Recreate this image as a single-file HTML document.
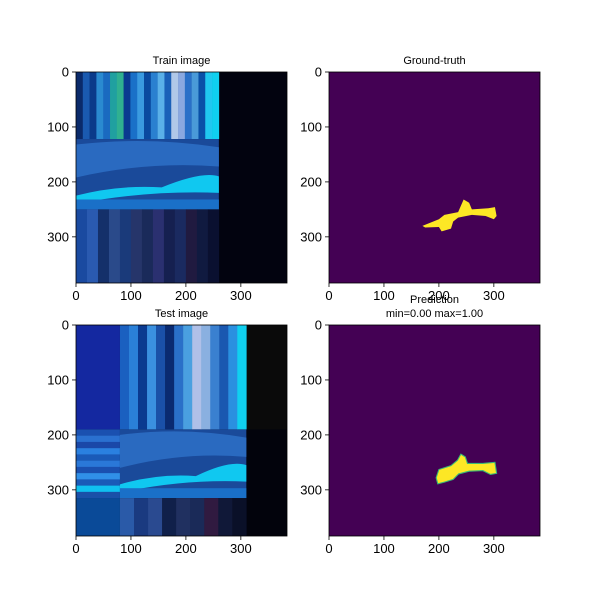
<!DOCTYPE html>
<html><head><meta charset="utf-8"><style>
body{margin:0;background:#fff}
svg text{font-family:"Liberation Sans",sans-serif;fill:#000}
</style></head><body>
<svg id="fig" width="600" height="600" xmlns="http://www.w3.org/2000/svg"></svg>
<script>
const ticks=[0,100,200,300];
const imgSize=384;
const trainTop=["#0a2a6a","#1a5ab0","#0a3a8a","#2a8ad0","#1a6ac0","#20a0a0","#30b090","#0a3a90","#1a70c8","#3a9ae0","#0a4aa0","#2a80d0","#5ab0e8","#1a60b8","#b0c8e8","#8aa8e0","#2a70c8","#4a9ad8","#0a50a8","#20c8f0","#10d0f0"];
const trainBot=["#1a4aa0","#2a5ab0","#14306a","#2a4a8a","#1a3a7a","#26356a","#1a2a5a","#2a3070","#152050","#1a2a60","#201a40","#101a40","#0a1030"];
const testTop=["#1a60c0","#2a80d8","#0a3a90","#3a90e0","#1a50a8","#0a2a70","#2a70c8","#4aa0e0","#b0c0e8","#8ab0e0","#3a80d0","#1a58b0","#2a90e0","#10d0f0"];
const testBot=["#2a5aa8","#1a3a80","#2a4a90","#10204a","#203060","#1a2a58","#301a40","#101838","#0a1028"];
const testLeftRows=["#1a50b0","#2a70d0","#1a48a8","#2a80e0","#1a5ab8","#2a78d8","#1a50b0","#3090e8","#1a5ab8","#10c0f0","#1a50a8"];
const gtShape=[[170,280],[200,268],[210,260],[235,255],[245,232],[255,238],[260,250],[290,248],[302,246],[305,262],[300,268],[285,262],[260,260],[235,265],[226,272],[222,285],[205,290],[200,282],[175,283]];
const predShape=[[195,278],[200,263],[222,256],[234,246],[240,235],[248,240],[252,252],[280,252],[302,250],[305,270],[294,272],[280,265],[255,266],[236,271],[226,281],[210,286],[198,289]];
const NS="http://www.w3.org/2000/svg";
const fig=document.getElementById('fig');
function el(tag,attrs,parent){const e=document.createElementNS(NS,tag);for(const k in attrs)e.setAttribute(k,attrs[k]);(parent||fig).appendChild(e);return e;}
function axes(x0,y0,name,title,titleLines){
  const W=211,s=W/imgSize;
  const g=el('g',{transform:`translate(${x0},${y0}) scale(${s})`});
  
  
  const fr=el('rect',{x:x0,y:y0,width:W,height:W,fill:'none',stroke:'#000','stroke-width':0.8});
  
  
  ticks.forEach(t=>{
    const px=x0+t*s, py=y0+t*s;
    el('line',{x1:px,y1:y0+W,x2:px,y2:y0+W+4,stroke:'#000','stroke-width':0.8});
    const tx=el('text',{x:px,y:y0+W+17,'font-size':13,'text-anchor':'middle'});tx.textContent=t;
    
    
    el('line',{x1:x0-4,y1:py,x2:x0,y2:py,stroke:'#000','stroke-width':0.8});
    const ty=el('text',{x:x0-7,y:py+4.5,'font-size':13,'text-anchor':'end'});ty.textContent=t;
    
    
  });
  titleLines.forEach((l,i)=>{
    const t=el('text',{x:x0+W/2,y:y0-8-(titleLines.length-1-i)*14,'font-size':11,'text-anchor':'middle'});t.textContent=l;
    
    
  });
  return g;
}
function stripes(g,cols,x0,x1,y0,y1){
  const w=(x1-x0)/cols.length;
  cols.forEach((c,i)=>el('rect',{x:x0+i*w,y:y0,width:w+0.5,height:y1-y0,fill:c},g));
}
function hstripes(g,cols,x0,x1,y0,y1){
  const h=(y1-y0)/cols.length;
  cols.forEach((c,i)=>el('rect',{x:x0,y:y0+i*h,width:x1-x0,height:h+0.5,fill:c},g));
}
function scene(g,x0,x1,y0,y1){
  el('rect',{x:x0,y:y0,width:x1-x0,height:y1-y0,fill:'#1a4a9a'},g);
  el('path',{d:`M${x0} ${y0+10} Q${(x0+x1)/2} ${y0-5} ${x1} ${y0+15} L${x1} ${y0+50} Q${(x0+x1)/2} ${y0+40} ${x0} ${y0+70}Z`,fill:'#2a6ac0'},g);
  el('path',{d:`M${x0} ${y1-25} Q${x0+(x1-x0)*0.3} ${y1-45} ${x0+(x1-x0)*0.6} ${y1-40} Q${x1-30} ${y1-70} ${x1} ${y1-60} L${x1} ${y1-30} Q${x0+(x1-x0)*0.5} ${y1-35} ${x0} ${y1-10}Z`,fill:'#10c8f0'},g);
  el('rect',{x:x0,y:y1-18,width:x1-x0,height:18,fill:'#1a70c8'},g);
}
let g=axes(76,72,'train','Train image',['Train image']);
el('rect',{x:0,y:0,width:384,height:384,fill:'#02030f'},g);
stripes(g,trainTop,0,260,0,122);
scene(g,0,260,122,250);
stripes(g,trainBot,0,260,250,384);
g=axes(329,72,'ground-truth','Ground-truth',['Ground-truth']);
el('rect',{x:0,y:0,width:384,height:384,fill:'#440154'},g);
let p=el('polygon',{points:gtShape.map(q=>q.join(',')).join(' '),fill:'#fde725'},g);


g=axes(76,325,'test','Test image',['Test image']);
el('rect',{x:0,y:0,width:384,height:384,fill:'#0a0a0a'},g);
el('rect',{x:310,y:190,width:74,height:194,fill:'#02030c'},g);
el('rect',{x:0,y:0,width:80,height:190,fill:'#1428a0'},g);
hstripes(g,testLeftRows,0,80,190,315);
el('rect',{x:0,y:315,width:80,height:69,fill:'#0a4a98'},g);
stripes(g,testTop,80,310,0,190);
scene(g,80,310,190,315);
stripes(g,testBot,80,310,315,384);
g=axes(329,325,'prediction','Prediction',['Prediction','min=0.00 max=1.00']);
el('rect',{x:0,y:0,width:384,height:384,fill:'#440154'},g);
p=el('polygon',{points:predShape.map(q=>q.join(',')).join(' '),fill:'#fde725',stroke:'#3aba76','stroke-width':2},g);


</script>
</body></html>
